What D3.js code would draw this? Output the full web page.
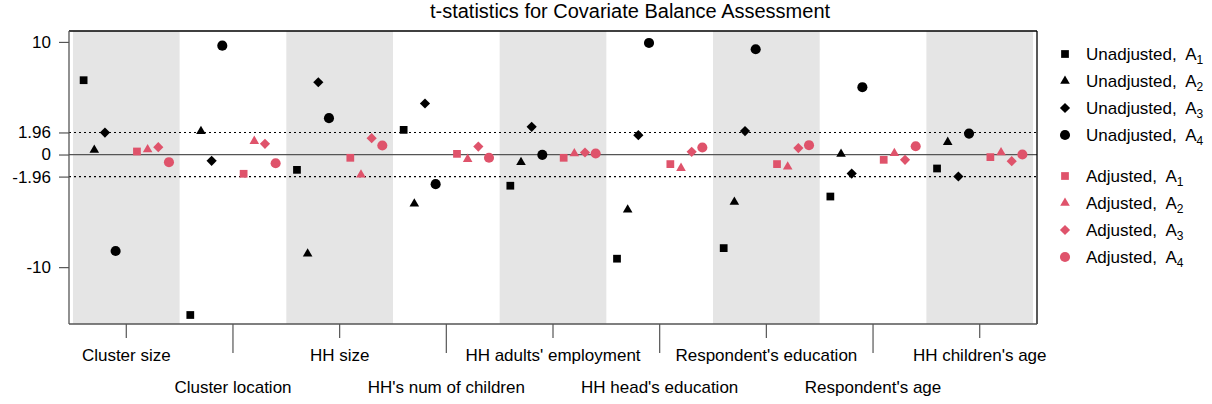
<!DOCTYPE html>
<html><head><meta charset="utf-8">
<script src="https://cdn.jsdelivr.net/npm/d3@7"></script>
<style>
body{margin:0;background:#fff;}
svg text{font-family:"Liberation Sans",Arial,sans-serif;fill:#000;}
</style></head>
<body>
<svg id="chart" width="1212" height="404"></svg>
<script>
const categories = ["Cluster size","Cluster location","HH size","HH's num of children","HH adults' employment","HH head's education","Respondent's education","Respondent's age","HH children's age"];
const unadjA1 = [6.60, -14.25, -1.36, 2.19, -2.77, -9.25, -8.31, -3.73, -1.24];
const unadjA2 = [0.40, 2.07, -8.81, -4.37, -0.68, -4.91, -4.22, 0.05, 1.10];
const unadjA3 = [1.95, -0.56, 6.42, 4.53, 2.46, 1.72, 2.08, -1.69, -1.95];
const unadjA4 = [-8.57, 9.67, 3.23, -2.63, -0.03, 9.91, 9.35, 5.98, 1.86];
const adjA1 = [0.27, -1.71, -0.29, 0.06, -0.29, -0.85, -0.85, -0.47, -0.23];
const adjA2 = [0.44, 1.19, -1.80, -0.41, 0.09, -1.21, -1.09, 0.12, 0.18];
const adjA3 = [0.65, 0.95, 1.45, 0.71, 0.18, 0.24, 0.57, -0.47, -0.59];
const adjA4 = [-0.68, -0.77, 0.80, -0.29, 0.09, 0.62, 0.83, 0.74, 0.00];
const yTicks = [10, 1.96, 0, -1.96, -10];
const yTickLabels = ["10", "1.96", "0", "-1.96", "-10"];
const title = "t-statistics for Covariate Balance Assessment";

const RED = "#DF536B";
const series = [
  {name:"Unadjusted", sub:"1", vals:unadjA1, shape:"square", color:"#000", off:-4},
  {name:"Unadjusted", sub:"2", vals:unadjA2, shape:"triangle", color:"#000", off:-3},
  {name:"Unadjusted", sub:"3", vals:unadjA3, shape:"diamond", color:"#000", off:-2},
  {name:"Unadjusted", sub:"4", vals:unadjA4, shape:"circle", color:"#000", off:-1},
  {name:"Adjusted", sub:"1", vals:adjA1, shape:"square", color:RED, off:1},
  {name:"Adjusted", sub:"2", vals:adjA2, shape:"triangle", color:RED, off:2},
  {name:"Adjusted", sub:"3", vals:adjA3, shape:"diamond", color:RED, off:3},
  {name:"Adjusted", sub:"4", vals:adjA4, shape:"circle", color:RED, off:4}
];

const L = 69, R = 1037, T = 31, B = 324;
const svg = d3.select("#chart");
const x = d3.scaleLinear().domain([-0.37, 90.37]).range([L, R]);
const y = d3.scaleLinear().domain([-15.05, 10.97]).range([B, T]);

svg.append("defs").append("clipPath").attr("id","clip")
  .append("rect").attr("x",L).attr("y",T).attr("width",R-L).attr("height",B-T);

const plot = svg.append("g").attr("clip-path","url(#clip)");
// bands
plot.selectAll("rect.band").data(categories.map((c,i)=>i).filter(i=>i%2===0))
  .enter().append("rect").attr("class","band")
  .attr("x", i=>x(10*i)).attr("width", i=>x(10*i+10)-x(10*i))
  .attr("y",T).attr("height",B-T).attr("fill","#E5E5E5");

// reference lines
plot.append("line").attr("x1",L).attr("x2",R).attr("y1",y(0)).attr("y2",y(0))
  .attr("stroke","#555").attr("stroke-width",1.2);
[1.96,-1.96].forEach(v=>{
  plot.append("line").attr("x1",L).attr("x2",R).attr("y1",y(v)).attr("y2",y(v))
    .attr("stroke","#000").attr("stroke-width",1.1).attr("stroke-dasharray","2,3");
});

function symPath(shape){
  if(shape==="square") return d3.symbol(d3.symbolSquare, 60)();
  if(shape==="triangle") return d3.symbol(d3.symbolTriangle, 40)();
  if(shape==="diamond") return d3.symbol(d3.symbolSquare, 52)();
  return d3.symbol(d3.symbolCircle, 80)();
}

series.forEach(s=>{
  plot.selectAll(null).data(s.vals).enter().append("path")
    .attr("d", symPath(s.shape))
    .attr("transform",(v,i)=>`translate(${x(10*i+5+s.off)},${y(v)})` + (s.shape==="diamond"?" rotate(45)":""))
    .attr("fill", s.color);
});

// box
svg.append("line").attr("x1",L).attr("x2",R).attr("y1",T).attr("y2",T).attr("stroke","#000").attr("stroke-width",1.3);
svg.append("line").attr("x1",R).attr("x2",R).attr("y1",T).attr("y2",B).attr("stroke","#000").attr("stroke-width",1.3);
svg.append("line").attr("x1",L).attr("x2",L).attr("y1",T).attr("y2",B).attr("stroke","#555").attr("stroke-width",1.3);
svg.append("line").attr("x1",L).attr("x2",R).attr("y1",B).attr("y2",B).attr("stroke","#555").attr("stroke-width",1.3);

// y axis
const yAxis = d3.axisLeft(y).tickValues(yTicks).tickFormat((d,i)=>yTickLabels[i]).tickSize(10).tickPadding(8);
const ga = svg.append("g").attr("transform",`translate(${L},0)`).call(yAxis);
ga.select(".domain").remove();
ga.selectAll(".tick line").attr("stroke","#555").attr("stroke-width",1.2);
ga.selectAll(".tick text").style("font-size","17px").style("font-family","Liberation Sans, Arial, sans-serif").attr("fill","#000");

// x axis (two rows)
const gx = svg.append("g");
categories.forEach((c,i)=>{
  const cx = x(10*i+5);
  const len = i%2===0 ? 14 : 29;
  gx.append("line").attr("x1",cx).attr("x2",cx).attr("y1",B).attr("y2",B+len).attr("stroke","#555").attr("stroke-width",1.2);
  gx.append("text").attr("x",cx).attr("y", i%2===0 ? 361 : 393).attr("text-anchor","middle")
    .style("font-size","17px").text(c);
});

// title
svg.append("text").attr("x",630).attr("y",18).attr("text-anchor","middle").style("font-size","20px").text(title);

// legend
const legY = [54, 81, 108, 135, 176, 203, 230, 257];
series.forEach((s,k)=>{
  const g = svg.append("g").attr("transform",`translate(0,${legY[k]})`);
  g.append("path").attr("d", symPath(s.shape))
    .attr("transform",`translate(1065,0)` + (s.shape==="diamond"?" rotate(45)":""))
    .attr("fill", s.color);
  const t = g.append("text").attr("x",1086).attr("y",6).style("font-size","17px").style("white-space","pre");
  t.append("tspan").text(s.name + ",  A");
  t.append("tspan").attr("dy",4).style("font-size","12px").text(s.sub);
});
</script>
</body></html>
